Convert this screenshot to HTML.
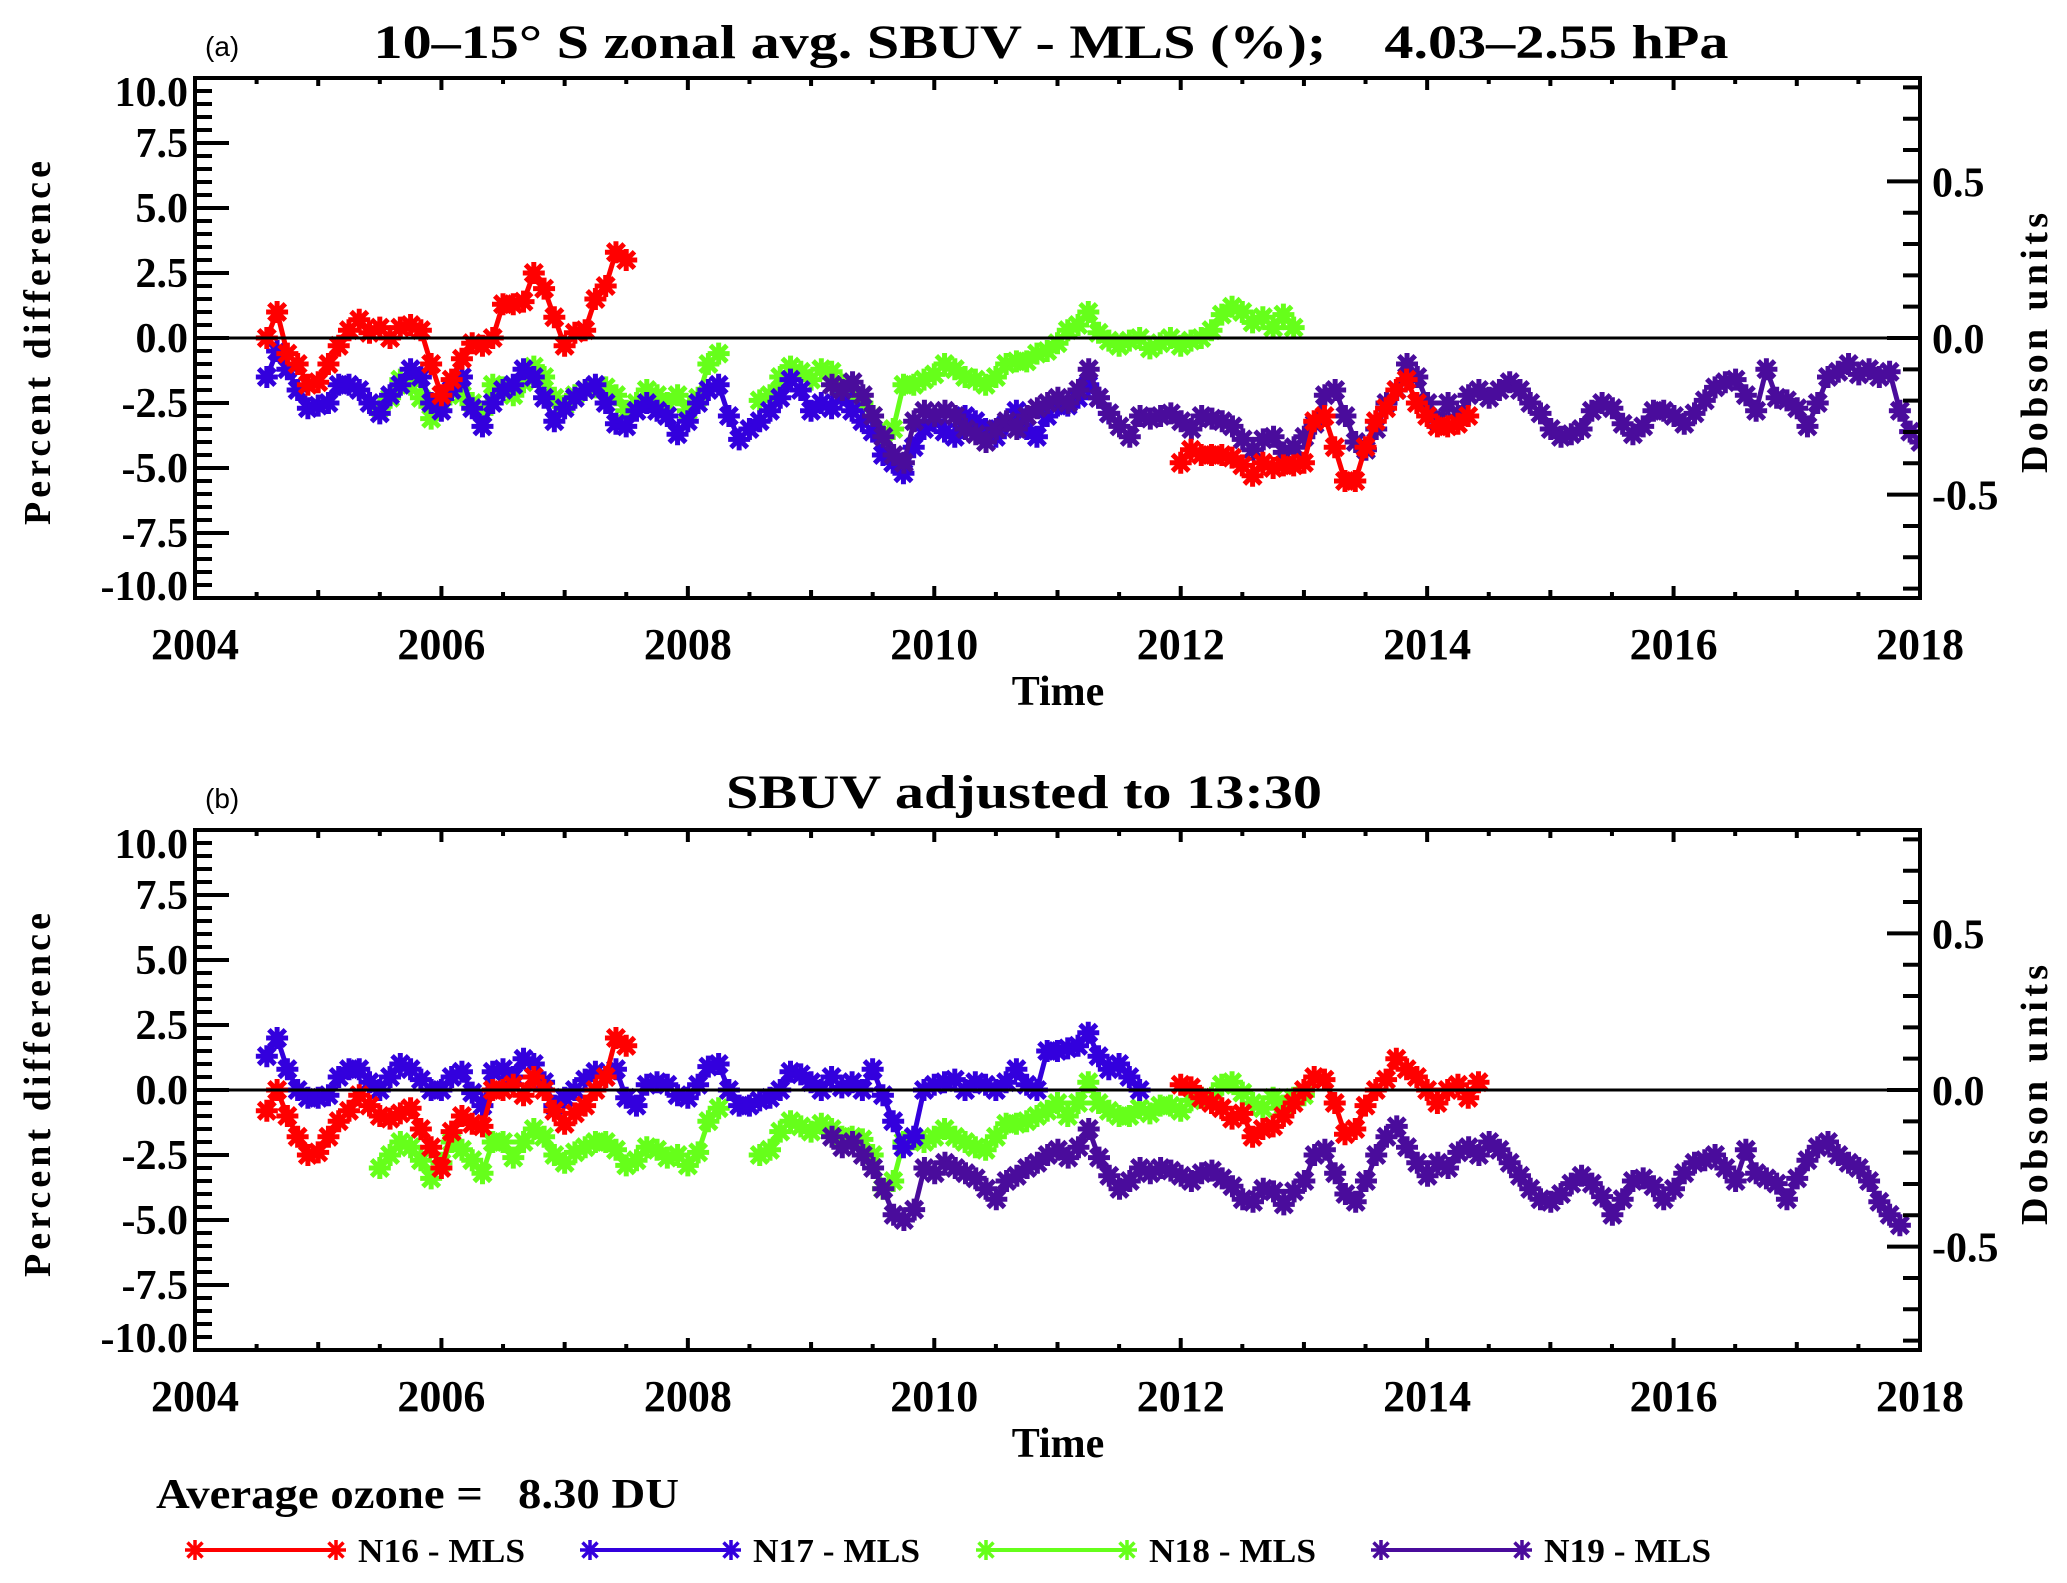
<!DOCTYPE html>
<html><head><meta charset="utf-8">
<style>
html,body{margin:0;padding:0;background:#fff;}
svg{display:block;}
text{font-family:"Liberation Serif",serif;font-weight:bold;fill:#000;white-space:pre;}
</style></head>
<body>
<svg id="chart" width="2067" height="1583" viewBox="0 0 2067 1583" xmlns="http://www.w3.org/2000/svg" xml:space="preserve">
<rect x="0" y="0" width="2067" height="1583" fill="#fff"/>
<text x="205" y="56" font-size="28" style="font-family:'Liberation Sans',sans-serif;font-weight:normal">(a)</text>
<text x="1051" y="58" font-size="48" text-anchor="middle" textLength="1355" lengthAdjust="spacingAndGlyphs">10–15° S zonal avg. SBUV - MLS (%);    4.03–2.55 hPa</text>
<text x="205" y="808" font-size="28" style="font-family:'Liberation Sans',sans-serif;font-weight:normal">(b)</text>
<text x="1024" y="808" font-size="48" text-anchor="middle" textLength="596" lengthAdjust="spacingAndGlyphs">SBUV adjusted to 13:30</text>
<text x="156" y="1508" font-size="42" textLength="523" lengthAdjust="spacingAndGlyphs">Average ozone =   8.30 DU</text>
<g id="panels"></g>
<g id="legend"></g>
</svg>
<script>
// ---- data (monthly values, percent difference) ----
const panelNames = ['a','b'];
const colors = {N16:'#ff0000', N17:'#3300dd', N18:'#66ff1a', N19:'#4a0c9c'};
const seriesNames = ['N16','N17','N18','N19'];

// Panel (a)
const a_N16_seg1_start = 2004.583;
const a_N16_seg1 = [0,1.0,-0.6,-1.0,-1.8,-1.7,-1.0,-0.3,0.3,0.7,0.2,0.4,0.0,0.4,0.5,0.3,-1.0,-2.2,-1.6,-0.8,-0.2,-0.3,0.0,1.3,1.3,1.4,2.5,1.9,0.8,-0.3,0.2,0.3,1.5,2.0,3.3,3.0];
const a_N16_seg2_start = 2012.0;
const a_N16_seg2 = [-4.8,-4.3,-4.5,-4.5,-4.5,-4.6,-4.9,-5.3,-4.8,-5.0,-4.9,-4.9,-4.8,-3.2,-3.0,-4.2,-5.5,-5.5,-4.2,-3.2,-2.7,-2.0,-1.6,-2.5,-3.0,-3.4,-3.4,-3.3,-3.0];
const a_N17_start = 2004.583;
const a_N17 = [-1.5,-0.5,-1.2,-2.0,-2.7,-2.6,-2.5,-1.8,-1.8,-2.0,-2.5,-2.9,-2.2,-1.8,-1.2,-1.5,-2.5,-2.8,-2.0,-1.5,-2.7,-3.4,-2.5,-2.0,-1.8,-1.2,-1.5,-2.3,-3.2,-2.7,-2.3,-2.0,-1.8,-2.5,-3.3,-3.4,-2.8,-2.5,-2.8,-3.0,-3.7,-3.2,-2.5,-2.0,-1.8,-3.0,-3.9,-3.5,-3.2,-2.8,-2.3,-1.6,-2.0,-2.8,-2.5,-2.7,-2.2,-2.8,-3.2,-3.6,-4.5,-4.8,-5.2,-4.2,-3.5,-3.2,-3.6,-3.8,-3.0,-3.2,-3.5,-3.8,-3.3,-2.8,-3.5,-3.8,-3.0,-2.6,-2.6,-2.3,-1.8,-2.3,-2.9];
const a_N18_start = 2005.5;
const a_N18 = [-2.7,-2.3,-1.6,-1.8,-2.3,-3.1,-2.5,-1.9,-2.2,-2.5,-2.9,-1.8,-1.9,-2.2,-1.7,-1.1,-1.5,-2.3,-2.6,-2.2,-2.0,-1.9,-1.9,-2.2,-2.8,-2.5,-2.0,-2.2,-2.5,-2.2,-2.8,-2.3,-1.0,-0.6,null,null,null,-2.4,-2.2,-1.5,-1.1,-1.3,-1.6,-1.2,-1.3,-1.8,-2.2,-2.5,-3.0,-3.7,-3.5,-1.8,-1.8,-1.6,-1.4,-1.0,-1.2,-1.5,-1.6,-1.8,-1.5,-1.0,-0.9,-0.9,-0.6,-0.5,-0.2,0.3,0.5,1.0,0.2,-0.1,-0.3,-0.1,0.0,-0.4,-0.2,0.0,-0.3,-0.1,0.0,0.3,0.9,1.2,1.0,0.6,0.8,0.4,0.9,0.4];
const a_N19_start = 2009.17;
const a_N19 = [-1.8,-2.0,-1.7,-2.2,-3.0,-3.8,-4.5,-4.8,-3.2,-2.8,-3.0,-2.8,-3.0,-3.5,-3.7,-4.0,-3.5,-3.2,-3.5,-3.0,-2.7,-2.5,-2.3,-2.5,-2.0,-1.2,-2.3,-2.9,-3.4,-3.8,-3.0,-3.1,-3.0,-2.9,-3.2,-3.5,-3.0,-3.1,-3.2,-3.4,-3.9,-4.3,-3.9,-3.8,-4.4,-4.2,-3.8,-3.3,-2.2,-2.0,-3.0,-4.0,-4.3,-3.5,-2.5,-2.0,-1.0,-1.5,-2.5,-3.2,-2.5,-3.0,-2.2,-2.0,-2.3,-2.0,-1.7,-2.0,-2.5,-2.9,-3.5,-3.8,-3.7,-3.5,-2.8,-2.5,-2.7,-3.3,-3.7,-3.4,-2.8,-2.8,-3.0,-3.3,-2.9,-2.4,-1.9,-1.7,-1.6,-2.2,-2.8,-1.2,-2.3,-2.4,-2.7,-3.4,-2.5,-1.5,-1.3,-1.0,-1.4,-1.2,-1.5,-1.3,-2.8,-3.6,-4.0];

// Panel (b)
const b_N16_seg1_start = 2004.583;
const b_N16_seg1 = [-0.8,0.0,-1.0,-1.8,-2.5,-2.4,-1.8,-1.2,-0.8,-0.2,-0.6,-1.0,-1.1,-0.9,-0.7,-1.5,-2.2,-3.0,-1.6,-1.0,-1.3,-1.4,0.0,0.0,0.2,-0.2,0.5,0.0,-0.8,-1.3,-0.9,-0.6,0.0,0.5,2.0,1.7];
const b_N16_seg2_start = 2012.0;
const b_N16_seg2 = [0.2,0.1,-0.3,-0.5,-0.7,-1.1,-0.9,-1.8,-1.5,-1.4,-1.0,-0.5,0.0,0.5,0.4,-0.5,-1.7,-1.5,-0.6,0.0,0.4,1.2,0.8,0.5,0.0,-0.5,0.0,0.2,-0.3,0.3];
const b_N17_start = 2004.583;
const b_N17 = [1.3,2.0,0.8,0.0,-0.3,-0.3,-0.2,0.5,0.8,0.8,0.3,0.0,0.5,1.0,0.8,0.4,0.0,0.0,0.5,0.7,-0.1,-0.6,0.7,0.8,0.5,1.2,1.0,0.3,-0.6,-0.3,0.0,0.4,0.7,0.5,0.8,-0.3,-0.6,0.2,0.3,0.2,-0.2,-0.3,0.2,0.9,1.0,0.0,-0.6,-0.6,-0.4,-0.3,0.0,0.7,0.6,0.3,0.0,0.5,0.1,0.3,0.0,0.8,-0.2,-1.2,-2.2,-1.8,0.0,0.2,0.3,0.4,0.0,0.3,0.2,0.0,0.3,0.8,0.2,0.0,1.5,1.5,1.6,1.7,2.2,1.3,0.8,1.0,0.5,0.0];
const b_N18_start = 2005.5;
const b_N18 = [-3.0,-2.5,-2.0,-2.2,-2.7,-3.4,-2.8,-2.0,-2.3,-2.7,-3.2,-2.0,-2.0,-2.6,-2.0,-1.5,-1.8,-2.5,-2.8,-2.4,-2.2,-2.0,-2.0,-2.3,-2.9,-2.7,-2.2,-2.3,-2.6,-2.5,-2.9,-2.4,-1.2,-0.7,null,null,null,-2.5,-2.3,-1.6,-1.2,-1.4,-1.6,-1.3,-1.5,-1.8,-1.8,-1.9,-2.5,-3.8,-3.5,-2.0,-1.9,-2.0,-1.8,-1.5,-1.8,-2.0,-2.2,-2.3,-1.8,-1.3,-1.3,-1.2,-1.0,-0.8,-0.5,-1.0,-0.5,0.3,-0.5,-0.8,-1.0,-1.0,-0.7,-0.9,-0.6,-0.6,-0.8,-0.4,-0.3,-0.3,0.2,0.3,-0.1,-0.5,-0.7,-0.3,-0.6,-0.3,-0.2];
const b_N19_start = 2009.17;
const b_N19 = [-1.8,-2.2,-2.0,-2.5,-3.0,-3.8,-4.8,-5.0,-4.6,-3.0,-3.2,-2.8,-3.0,-3.2,-3.4,-3.8,-4.2,-3.5,-3.3,-3.0,-2.8,-2.5,-2.3,-2.6,-2.2,-1.5,-2.6,-3.3,-3.8,-3.5,-3.0,-3.2,-3.0,-3.1,-3.3,-3.5,-3.2,-3.1,-3.4,-3.7,-4.2,-4.3,-3.8,-3.9,-4.4,-3.9,-3.5,-2.5,-2.3,-3.2,-4.0,-4.3,-3.5,-2.5,-1.8,-1.4,-2.2,-2.8,-3.3,-2.8,-3.0,-2.4,-2.2,-2.5,-2.0,-2.3,-2.8,-3.3,-3.8,-4.2,-4.3,-4.0,-3.6,-3.3,-3.6,-4.1,-4.8,-4.2,-3.5,-3.4,-3.7,-4.2,-3.8,-3.2,-2.8,-2.7,-2.5,-3.0,-3.5,-2.3,-3.2,-3.4,-3.6,-4.2,-3.4,-2.7,-2.2,-2.0,-2.5,-2.8,-3.0,-3.5,-4.3,-4.8,-5.2];

const xTickLabels = ['2004','2006','2008','2010','2012','2014','2016','2018'];
const yTickLabels = ['10.0','7.5','5.0','2.5','0.0','-2.5','-5.0','-7.5','-10.0'];
const duTickLabels = ['0.5','0.0','-0.5'];
const avgOzone = 8.30;
const legendLabels = ['N16 - MLS','N17 - MLS','N18 - MLS','N19 - MLS'];

// ---- layout ----
const NS='http://www.w3.org/2000/svg';
const L=195, R=1920, X0=2004, X1=2018;
const panelTops=[78, 830];
const PH=520, YMIN=-10, YMAX=10;
function xs(t){return L+(t-X0)/(X1-X0)*(R-L);}
function ysF(top){return v=>top+(YMAX-v)/(YMAX-YMIN)*PH;}
function mk(tag,attrs,parent){const e=document.createElementNS(NS,tag);for(const k in attrs)e.setAttribute(k,attrs[k]);parent.appendChild(e);return e;}
function star(g,x,y,s,c,w){
  const d=`M${x-s},${y}L${x+s},${y}M${x},${y-s}L${x},${y+s}M${x-s*0.75},${y-s*0.75}L${x+s*0.75},${y+s*0.75}M${x-s*0.75},${y+s*0.75}L${x+s*0.75},${y-s*0.75}`;
  return mk('path',{d:d,stroke:c,'stroke-width':w,fill:'none'},g);
}
const panelsG=document.getElementById('panels');
const panelData={
 a:[['N16',a_N16_seg1_start,a_N16_seg1],['N16',a_N16_seg2_start,a_N16_seg2],['N17',a_N17_start,a_N17],['N18',a_N18_start,a_N18],['N19',a_N19_start,a_N19]],
 b:[['N16',b_N16_seg1_start,b_N16_seg1],['N16',b_N16_seg2_start,b_N16_seg2],['N17',b_N17_start,b_N17],['N18',b_N18_start,b_N18],['N19',b_N19_start,b_N19]]
};
panelNames.forEach((pn,pi)=>{
  const top=panelTops[pi], bot=top+PH, ys=ysF(top);
  const g=mk('g',{},panelsG);
  
  
  const cid='clip'+pn;
  const cp=mk('clipPath',{id:cid},g); mk('rect',{x:L,y:top,width:R-L,height:PH},cp);
  const sg=mk('g',{'clip-path':`url(#${cid})`},g);
  const order=[3,2,4,0,1];
  order.forEach(idx=>{
    const [name,start,vals]=panelData[pn][idx];
    const c=colors[name];
    const s=mk('g',{},sg);
    
    
    let d='',pen=false;
    vals.forEach((v,i)=>{ if(v===null){pen=false;return;} const x=xs(start+i/12),y=ys(v); d+=(pen?'L':'M')+x.toFixed(1)+','+y.toFixed(1); pen=true;});
    mk('path',{d:d,stroke:c,'stroke-width':5,fill:'none','stroke-linejoin':'round'},s);
    vals.forEach((v,i)=>{ if(v===null)return; const p=star(s,xs(start+i/12),ys(v),11,c,5);
      
      
    });
  });
  const z=mk('line',{x1:L,x2:R,y1:ys(0),y2:ys(0),stroke:'#000','stroke-width':3},g);
  
  
  const f=mk('rect',{x:L,y:top,width:R-L,height:PH,fill:'none',stroke:'#000','stroke-width':4},g);
  
  
  let td='';
  for(let v=YMIN; v<=YMAX+1e-6; v+=0.5){const y=ys(v); const major=Math.abs(v/2.5-Math.round(v/2.5))<1e-6; td+=`M${L},${y}L${L+(major?34:17)},${y}`;}
  for(let t=X0; t<=X1+1e-6; t+=0.5){const x=xs(t); const major=Math.abs(t/2-Math.round(t/2))<1e-6; const len=major?12:(Number.isInteger(t)?8:6);
    td+=`M${x},${bot}L${x},${bot-len}M${x},${top}L${x},${top+len}`;}
  for(let k=-8;k<=8;k++){const du=k/10; const v=du/(avgOzone/100); if(v<YMIN||v>YMAX)continue; const y=ys(v); td+=`M${R},${y}L${R-(k%5===0?33:17)},${y}`;}
  const tk=mk('path',{d:td,stroke:'#000','stroke-width':4,fill:'none'},g);
  
  
  yTickLabels.forEach(lbl=>{
    const v=parseFloat(lbl); let y=ys(v)+14;
    if(v===10) y=ys(v)+28; if(v===-10) y=ys(v)+2;
    const t=mk('text',{x:188,y:y,'font-size':42,'text-anchor':'end'},g); t.textContent=lbl;
    
    
  });
  duTickLabels.forEach(lbl=>{
    const v=parseFloat(lbl)/(avgOzone/100);
    const t=mk('text',{x:1932,y:ys(v)+15,'font-size':42},g); t.textContent=lbl;
    
    
  });
  xTickLabels.forEach(lbl=>{
    const t=mk('text',{x:xs(parseFloat(lbl)),y:bot+61,'font-size':44,'text-anchor':'middle'},g); t.textContent=lbl;
    
    
  });
  const xt=mk('text',{x:1058,y:bot+107,'font-size':42,'text-anchor':'middle'},g); xt.textContent='Time';
  
  
  const cy=top+265;
  const yt=mk('text',{x:0,y:0,'font-size':38,'text-anchor':'middle',transform:`translate(50,${cy}) rotate(-90)`,textLength:364,lengthAdjust:'spacing'},g); yt.textContent='Percent difference';
  
  
  const rt=mk('text',{x:0,y:0,'font-size':38,'text-anchor':'middle',transform:`translate(2047,${cy}) rotate(-90)`,textLength:260,lengthAdjust:'spacing'},g); rt.textContent='Dobson units';
  
  
});
const lg=document.getElementById('legend');
const legX=[195,590,986,1381];
seriesNames.forEach((n,i)=>{
  const g=mk('g',{},lg);
  
  
  const x0=legX[i], x1=x0+141, y=1550;
  mk('line',{x1:x0,x2:x1,y1:y,y2:y,stroke:colors[n],'stroke-width':4},g);
  star(g,x0,y,10,colors[n],3.5); star(g,x1,y,10,colors[n],3.5);
  const t=mk('text',{x:x1+22,y:y+12,'font-size':34,textLength:167,lengthAdjust:'spacingAndGlyphs'},g); t.textContent=legendLabels[i];
});
</script>
</body></html>
